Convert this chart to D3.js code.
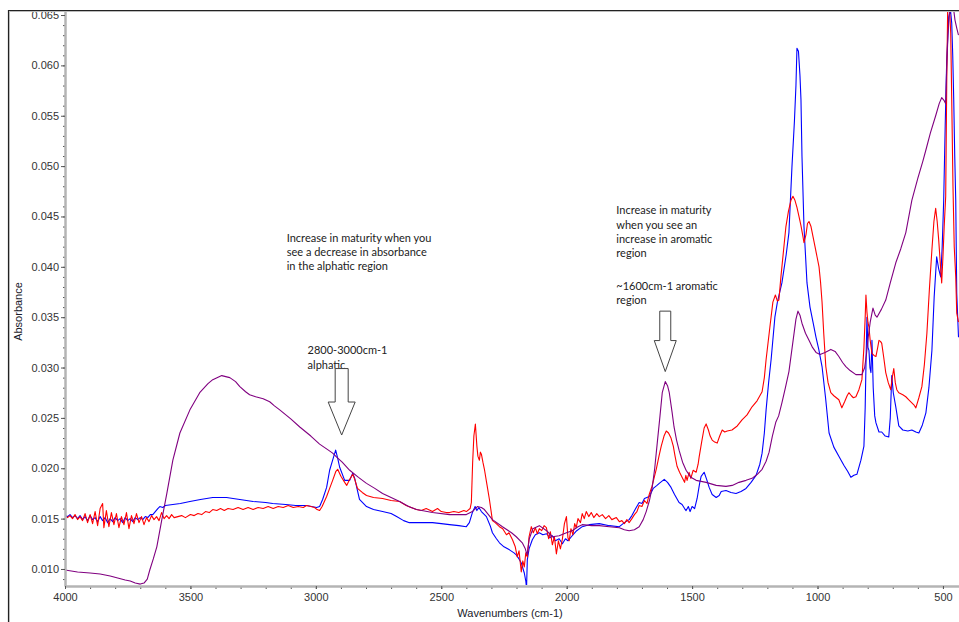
<!DOCTYPE html>
<html>
<head>
<meta charset="utf-8">
<script src="https://cdn.jsdelivr.net/npm/d3@7"></script>
<style>
  body { margin: 0; background: #fff; }
  svg { display: block; }
</style>
</head>
<body>
<div id="chart"></div>
<script>
"use strict";
// tick labels
var xTicks = [4000, 3500, 3000, 2500, 2000, 1500, 1000, 500];
var yTicks = [0.010, 0.015, 0.020, 0.025, 0.030, 0.035, 0.040, 0.045, 0.050, 0.055, 0.060, 0.065];

// spectra: [wavenumber, absorbance]
var purpleSeries = [
  [4000,0.0099],[3950,0.0097],[3900,0.0096],[3860,0.0095],[3820,0.0093],[3790,0.0091],[3760,0.0089],[3740,0.0088],
  [3720,0.0086],[3700,0.0085],[3685,0.0086],[3672,0.0090],[3662,0.0099],[3648,0.0110],[3634,0.0122],[3614,0.0149],
  [3594,0.0175],[3570,0.0208],[3542,0.0235],[3502,0.0258],[3463,0.0275],[3430,0.0284],[3411,0.0288],[3375,0.0292],
  [3343,0.0290],[3320,0.0286],[3303,0.0281],[3280,0.0276],[3264,0.0273],[3240,0.0271],[3210,0.0269],[3184,0.0266],
  [3165,0.0262],[3144,0.0258],[3100,0.0249],[3064,0.0241],[3020,0.0232],[2985,0.0224],[2950,0.0218],[2933,0.0215],
  [2917,0.0211],[2895,0.0206],[2865,0.0198],[2830,0.0191],[2798,0.0185],[2765,0.0180],[2734,0.0175],[2700,0.0171],
  [2666,0.0167],[2630,0.0162],[2599,0.0159],[2535,0.0156],[2467,0.0154],[2400,0.0154],[2376,0.0157],[2356,0.0162],
  [2340,0.0161],[2328,0.0159],[2296,0.0149],[2256,0.0142],[2220,0.0136],[2201,0.0132],[2177,0.0126],[2165,0.0120],
  [2158,0.0114],[2149,0.0130],[2135,0.0140],[2109,0.0143],[2080,0.0138],[2057,0.0132],[2030,0.0133],[2001,0.0136],
  [1978,0.0138],[1955,0.0142],[1938,0.0144],[1900,0.0143],[1870,0.0143],[1830,0.0142],[1790,0.0141],[1770,0.0139],
  [1751,0.0138],[1730,0.0139],[1711,0.0142],[1695,0.0149],[1683,0.0157],[1670,0.0168],[1659,0.0181],[1649,0.0200],
  [1639,0.0225],[1628,0.0252],[1619,0.0275],[1607,0.0286],[1598,0.0282],[1591,0.0275],[1580,0.0256],[1572,0.0241],
  [1562,0.0228],[1552,0.0218],[1538,0.0206],[1524,0.0198],[1505,0.0191],[1484,0.0188],[1444,0.0186],[1404,0.0183],
  [1365,0.0182],[1340,0.0183],[1313,0.0186],[1285,0.0188],[1261,0.0190],[1240,0.0194],[1221,0.0199],[1205,0.0207],
  [1193,0.0216],[1180,0.0232],[1166,0.0246],[1155,0.0252],[1142,0.0265],[1128,0.0280],[1114,0.0296],[1100,0.0322],
  [1086,0.0348],[1078,0.0356],[1070,0.0352],[1062,0.0344],[1048,0.0334],[1034,0.0327],[1020,0.0320],[1006,0.0315],
  [990,0.0313],[970,0.0315],[947,0.0318],[930,0.0316],[915,0.0311],[900,0.0305],[887,0.0301],[870,0.0297],
  [847,0.0293],[823,0.0293],[812,0.0300],[805,0.0313],[798,0.0330],[790,0.0345],[779,0.0359],[770,0.0352],
  [763,0.0350],[745,0.0358],[728,0.0367],[710,0.0384],[688,0.0404],[668,0.0418],[648,0.0434],[624,0.0466],
  [600,0.0488],[580,0.0505],[568,0.0516],[550,0.0533],[529,0.0550],[515,0.0562],[505,0.0568],[495,0.0565],
  [489,0.0562],[485,0.0598],[480,0.0630],[475,0.0650],[469,0.0668],[463,0.0660],[457,0.0655],[452,0.0645],
  [445,0.0637],[438,0.0630]
];

var blueSeries = [
  [4000,0.0153],[3990,0.0152],[3980,0.0154],[3970,0.0151],[3960,0.0153],[3950,0.0150],[3940,0.0153],[3930,0.0149],
  [3920,0.0152],[3910,0.0148],[3900,0.0153],[3890,0.0149],[3880,0.0151],[3870,0.0147],[3860,0.0152],[3850,0.0148],
  [3840,0.0151],[3830,0.0146],[3820,0.0150],[3810,0.0147],[3800,0.0151],[3790,0.0148],[3780,0.0150],[3770,0.0146],
  [3760,0.0151],[3750,0.0148],[3740,0.0150],[3730,0.0147],[3720,0.0151],[3710,0.0149],[3700,0.0151],[3690,0.0149],
  [3680,0.0152],[3670,0.0151],[3660,0.0154],[3650,0.0154],[3640,0.0157],[3630,0.0160],[3622,0.0162],[3610,0.0161],
  [3600,0.0163],[3570,0.0164],[3540,0.0165],[3502,0.0167],[3460,0.0169],[3411,0.0171],[3380,0.0171],[3356,0.0171],
  [3330,0.0170],[3303,0.0169],[3250,0.0167],[3200,0.0166],[3172,0.0165],[3120,0.0164],[3080,0.0163],[3037,0.0163],
  [2997,0.0161],[2985,0.0162],[2973,0.0169],[2957,0.0181],[2945,0.0198],[2933,0.0208],[2921,0.0218],[2913,0.0210],
  [2905,0.0201],[2885,0.0188],[2865,0.0188],[2853,0.0195],[2845,0.0190],[2837,0.0181],[2826,0.0169],[2798,0.0162],
  [2770,0.0159],[2734,0.0157],[2700,0.0155],[2678,0.0152],[2650,0.0148],[2627,0.0146],[2580,0.0146],[2535,0.0146],
  [2500,0.0145],[2467,0.0144],[2430,0.0143],[2400,0.0142],[2388,0.0146],[2376,0.0156],[2365,0.0162],[2358,0.0158],
  [2350,0.0161],[2340,0.0157],[2320,0.0152],[2305,0.0143],[2296,0.0136],[2280,0.0130],[2268,0.0126],[2250,0.0122],
  [2228,0.0119],[2210,0.0116],[2201,0.0114],[2190,0.0110],[2181,0.0106],[2169,0.0096],[2163,0.0088],[2160,0.0081],
  [2157,0.0109],[2150,0.0120],[2137,0.0129],[2125,0.0134],[2109,0.0136],[2095,0.0134],[2080,0.0135],[2067,0.0131],
  [2057,0.0133],[2045,0.0128],[2030,0.0130],[2017,0.0125],[2005,0.0130],[1995,0.0128],[1978,0.0133],[1960,0.0138],
  [1938,0.0142],[1910,0.0144],[1870,0.0145],[1830,0.0143],[1790,0.0142],[1770,0.0146],[1751,0.0149],[1740,0.0153],
  [1725,0.0160],[1711,0.0166],[1700,0.0165],[1690,0.0170],[1671,0.0172],[1655,0.0180],[1640,0.0183],[1631,0.0185],
  [1611,0.0189],[1598,0.0186],[1584,0.0181],[1570,0.0174],[1552,0.0166],[1540,0.0164],[1530,0.0160],[1524,0.0158],
  [1515,0.0162],[1508,0.0157],[1500,0.0162],[1490,0.0160],[1480,0.0170],[1470,0.0185],[1464,0.0192],[1452,0.0196],
  [1442,0.0189],[1432,0.0181],[1420,0.0174],[1404,0.0171],[1392,0.0173],[1384,0.0177],[1365,0.0178],[1345,0.0176],
  [1325,0.0175],[1305,0.0177],[1285,0.0180],[1265,0.0186],[1245,0.0193],[1230,0.0204],[1221,0.0215],[1212,0.0235],
  [1205,0.0258],[1195,0.0285],[1185,0.0308],[1170,0.0350],[1160,0.0365],[1142,0.0384],[1125,0.0412],[1114,0.0434],
  [1102,0.0499],[1092,0.0545],[1086,0.0580],[1082,0.0617],[1076,0.0614],[1070,0.0590],[1066,0.0566],[1062,0.0510],
  [1054,0.0440],[1042,0.0384],[1030,0.0360],[1018,0.0345],[1006,0.0330],[995,0.0318],[982,0.0301],[968,0.0270],
  [954,0.0235],[935,0.0221],[915,0.0212],[895,0.0203],[880,0.0197],[867,0.0191],[855,0.0193],[843,0.0194],
  [827,0.0208],[815,0.0222],[810,0.0260],[807,0.0301],[803,0.0350],[799,0.0320],[795,0.0317],[791,0.0300],
  [787,0.0295],[783,0.0327],[778,0.0280],[772,0.0252],[767,0.0245],[755,0.0236],[744,0.0236],[730,0.0232],
  [716,0.0231],[710,0.0250],[704,0.0292],[698,0.0275],[688,0.0261],[676,0.0242],[660,0.0238],[640,0.0237],
  [624,0.0238],[608,0.0236],[596,0.0235],[582,0.0243],[568,0.0255],[556,0.0280],[544,0.0317],[535,0.0370],
  [525,0.0410],[517,0.0398],[509,0.0390],[503,0.0420],[497,0.0466],[491,0.0540],[485,0.0605],[477,0.0648],
  [470,0.0655],[465,0.0642],[461,0.0610],[457,0.0566],[453,0.0510],[449,0.0466],[445,0.0374],[438,0.0330]
];

var redSeries = [
  [4000,0.0153],[3990,0.0151],[3980,0.0153],[3970,0.0150],[3960,0.0154],[3950,0.0149],[3940,0.0152],[3930,0.0148],
  [3920,0.0155],[3910,0.0146],[3900,0.0154],[3890,0.0145],[3880,0.0157],[3870,0.0143],[3860,0.0160],[3850,0.0165],
  [3845,0.0141],[3835,0.0158],[3825,0.0142],[3815,0.0156],[3805,0.0144],[3795,0.0155],[3785,0.0141],[3775,0.0152],
  [3765,0.0144],[3755,0.0156],[3745,0.0140],[3735,0.0153],[3725,0.0145],[3715,0.0155],[3705,0.0146],[3695,0.0152],
  [3685,0.0144],[3675,0.0151],[3665,0.0147],[3655,0.0153],[3645,0.0149],[3635,0.0152],[3625,0.0148],[3615,0.0156],
  [3605,0.0150],[3595,0.0153],[3585,0.0150],[3575,0.0154],[3565,0.0151],[3550,0.0152],[3535,0.0153],[3520,0.0151],
  [3500,0.0154],[3485,0.0153],[3470,0.0155],[3455,0.0154],[3440,0.0157],[3425,0.0156],[3411,0.0159],[3395,0.0158],
  [3380,0.0160],[3365,0.0158],[3350,0.0160],[3330,0.0159],[3310,0.0161],[3290,0.0159],[3270,0.0161],[3250,0.0159],
  [3230,0.0161],[3210,0.0160],[3190,0.0162],[3170,0.0160],[3150,0.0162],[3130,0.0161],[3110,0.0163],[3090,0.0161],
  [3070,0.0162],[3050,0.0161],[3037,0.0163],[3020,0.0162],[3005,0.0161],[2995,0.0159],[2985,0.0158],[2975,0.0162],
  [2957,0.0172],[2945,0.0180],[2933,0.0188],[2920,0.0197],[2913,0.0199],[2900,0.0192],[2885,0.0186],[2877,0.0183],
  [2865,0.0189],[2853,0.0194],[2845,0.0189],[2834,0.0180],[2815,0.0176],[2798,0.0173],[2770,0.0171],[2734,0.0170],
  [2700,0.0168],[2666,0.0167],[2640,0.0163],[2620,0.0161],[2599,0.0159],[2580,0.0158],[2560,0.0160],[2535,0.0157],
  [2515,0.0160],[2500,0.0157],[2480,0.0156],[2467,0.0156],[2450,0.0157],[2430,0.0156],[2410,0.0158],[2400,0.0157],
  [2385,0.0160],[2380,0.0166],[2375,0.0205],[2370,0.0232],[2364,0.0244],[2358,0.0222],[2354,0.0212],[2348,0.0208],
  [2344,0.0216],[2340,0.0214],[2334,0.0206],[2328,0.0199],[2318,0.0184],[2308,0.0169],[2296,0.0148],[2285,0.0146],
  [2268,0.0142],[2255,0.0140],[2240,0.0134],[2230,0.0136],[2216,0.0129],[2205,0.0122],[2197,0.0112],[2190,0.0118],
  [2181,0.0097],[2175,0.0108],[2169,0.0102],[2163,0.0116],[2157,0.0112],[2150,0.0132],[2141,0.0142],[2133,0.0136],
  [2125,0.0141],[2117,0.0135],[2109,0.0140],[2100,0.0138],[2090,0.0143],[2081,0.0141],[2072,0.0130],[2065,0.0137],
  [2057,0.0124],[2049,0.0132],[2041,0.0115],[2033,0.0128],[2025,0.0120],[2017,0.0130],[2009,0.0145],[2001,0.0152],
  [1995,0.0131],[1990,0.0128],[1983,0.0140],[1975,0.0134],[1968,0.0145],[1962,0.0141],[1955,0.0150],[1945,0.0146],
  [1938,0.0155],[1930,0.0150],[1922,0.0157],[1912,0.0152],[1902,0.0156],[1892,0.0151],[1880,0.0155],[1870,0.0152],
  [1858,0.0154],[1845,0.0150],[1832,0.0153],[1820,0.0149],[1802,0.0151],[1790,0.0147],[1780,0.0148],[1770,0.0145],
  [1760,0.0149],[1751,0.0146],[1740,0.0150],[1730,0.0154],[1720,0.0157],[1711,0.0163],[1700,0.0162],[1690,0.0168],
  [1680,0.0165],[1671,0.0174],[1660,0.0182],[1650,0.0192],[1643,0.0199],[1632,0.0212],[1623,0.0222],[1612,0.0232],
  [1603,0.0237],[1594,0.0235],[1584,0.0230],[1575,0.0222],[1568,0.0212],[1560,0.0202],[1550,0.0196],[1540,0.0191],
  [1530,0.0186],[1525,0.0193],[1520,0.0188],[1512,0.0196],[1505,0.0190],[1496,0.0198],[1484,0.0196],[1476,0.0204],
  [1472,0.0211],[1462,0.0226],[1452,0.0240],[1444,0.0244],[1435,0.0238],[1428,0.0232],[1420,0.0228],[1410,0.0226],
  [1400,0.0225],[1390,0.0232],[1380,0.0238],[1370,0.0236],[1360,0.0237],[1341,0.0238],[1320,0.0242],[1301,0.0248],
  [1281,0.0253],[1261,0.0261],[1241,0.0267],[1221,0.0276],[1212,0.0290],[1205,0.0308],[1190,0.0340],[1178,0.0365],
  [1168,0.0372],[1160,0.0366],[1154,0.0367],[1146,0.0390],[1136,0.0415],[1126,0.0440],[1116,0.0455],[1106,0.0466],
  [1098,0.0470],[1090,0.0466],[1082,0.0459],[1074,0.0450],[1066,0.0441],[1058,0.0430],[1054,0.0424],[1046,0.0432],
  [1040,0.0443],[1034,0.0445],[1026,0.0440],[1018,0.0430],[1010,0.0420],[1002,0.0410],[994,0.0400],[988,0.0385],
  [982,0.0365],[975,0.0333],[967,0.0301],[958,0.0285],[947,0.0275],[935,0.0272],[925,0.0270],[915,0.0268],
  [903,0.0260],[892,0.0266],[882,0.0272],[875,0.0275],[865,0.0272],[857,0.0270],[847,0.0271],[835,0.0278],
  [823,0.0288],[815,0.0320],[810,0.0350],[807,0.0372],[803,0.0355],[799,0.0345],[795,0.0340],[790,0.0327],
  [783,0.0314],[775,0.0312],[767,0.0311],[760,0.0320],[755,0.0327],[749,0.0326],[744,0.0324],[736,0.0310],
  [728,0.0295],[718,0.0285],[708,0.0278],[702,0.0290],[696,0.0299],[690,0.0285],[684,0.0278],[676,0.0275],
  [660,0.0273],[648,0.0271],[636,0.0268],[624,0.0265],[616,0.0263],[608,0.0260],[596,0.0270],[584,0.0281],
  [574,0.0303],[564,0.0334],[554,0.0378],[544,0.0417],[536,0.0445],[529,0.0458],[523,0.0445],[517,0.0427],
  [511,0.0405],[505,0.0384],[500,0.0410],[495,0.0440],[489,0.0470],[485,0.0580],[481,0.0660],[477,0.0665],
  [472,0.0648],[469,0.0632],[465,0.0566],[460,0.0480],[455,0.0420],[449,0.0390],[445,0.0354],[438,0.0345]
];

// annotations, anchored in data coordinates
var noteTexts = [
  ['Increase in maturity when you', 'see a decrease in absorbance', 'in the alphatic region'],
  ['2800-3000cm-1', 'alphatic'],
  ['Increase in maturity', 'when you see an', 'increase in aromatic', 'region'],
  ['~1600cm-1 aromatic', 'region']
];
var noteAnchors = [[3116, 0.0425], [3033, 0.0313], [1802, 0.0452], [1802, 0.0377]];
var arrowMarks = [[2897, 0.0299, 0.0233], [1607, 0.0356, 0.0296]];

var SpectrumGraph = (function () {
    function SpectrumGraph() {
        this.width = 959;
        this.height = 622;
        this.margin = { top: 11, right: 0, bottom: 36, left: 65 };
        this.wnDomain = [4000, 436];
        this.absDomain = [0.00831, 0.0654];
        this.font = '"Liberation Sans", Arial, sans-serif';
        this.noteFont = 'Lato, "Open Sans", sans-serif';
    }
    SpectrumGraph.prototype.precalc = function () {
        this.plotW = this.width - this.margin.left - this.margin.right;
        this.plotH = this.height - this.margin.top - this.margin.bottom;
        this.x = d3.scaleLinear().domain(this.wnDomain).range([0, this.plotW]);
        this.y = d3.scaleLinear().domain(this.absDomain).range([this.plotH, 0]);
    };
    SpectrumGraph.prototype.draw_frame = function () {
        var root = this.root;
        root.append('line').attr('x1', 8.5).attr('x2', 8.5).attr('y1', 10).attr('y2', this.height)
            .attr('stroke', '#222').attr('stroke-width', 1.2);
        root.append('line').attr('x1', 9.5).attr('x2', 9.5).attr('y1', 11).attr('y2', this.height)
            .attr('stroke', '#bbb').attr('stroke-width', 1);
        root.append('line').attr('x1', 8).attr('x2', this.width).attr('y1', 10.5).attr('y2', 10.5)
            .attr('stroke', '#222').attr('stroke-width', 1.2);
        root.append('line').attr('x1', 9).attr('x2', this.width).attr('y1', 11.5).attr('y2', 11.5)
            .attr('stroke', '#bbb').attr('stroke-width', 1);
    };
    SpectrumGraph.prototype.draw_axes = function () {
        var _this = this;
        var g = this.svg;
        var minorY = d3.range(9, 66).map(function (v) { return v / 1000; });
        var minorX = d3.range(500, 4001, 100);

        var yMinor = g.append('g').call(d3.axisLeft(this.y).tickValues(minorY).tickSize(2).tickSizeOuter(0).tickFormat(''));
        var xMinor = g.append('g').attr('transform', 'translate(0,' + this.plotH + ')')
            .call(d3.axisBottom(this.x).tickValues(minorX).tickSize(3).tickSizeOuter(0).tickFormat(''));

        var yAxis = g.append('g')
            .call(d3.axisLeft(this.y).tickValues(yTicks).tickSize(4).tickPadding(2).tickSizeOuter(0)
                .tickFormat(d3.format('.3f')));
        var xAxis = g.append('g').attr('transform', 'translate(0,' + this.plotH + ')')
            .call(d3.axisBottom(this.x).tickValues(xTicks).tickSize(3).tickPadding(4).tickSizeOuter(0)
                .tickFormat(d3.format('d')));

        [yMinor, xMinor, yAxis, xAxis].forEach(function (a) {
            a.select('.domain').attr('stroke', '#b4b4b4').attr('stroke-width', 2.5);
            a.selectAll('.tick line').attr('stroke', '#555');
            a.selectAll('text').attr('font-family', _this.font).attr('font-size', 11).attr('fill', '#333');
        });
        yMinor.select('.domain').attr('stroke', 'none');
        xMinor.select('.domain').attr('stroke', 'none');

        g.append('text')
            .attr('transform', 'translate(' + (-43) + ',' + (this.plotH / 2 + 13) + ') rotate(-90)')
            .attr('text-anchor', 'middle')
            .attr('font-family', this.font).attr('font-size', 11).attr('fill', '#1a1a2a')
            .text('Absorbance');
        g.append('text')
            .attr('x', this.plotW / 2 - 2)
            .attr('y', this.plotH + 31)
            .attr('text-anchor', 'middle')
            .attr('font-family', this.font).attr('font-size', 11).attr('fill', '#1a1a2a')
            .text('Wavenumbers (cm-1)');
    };
    SpectrumGraph.prototype.draw_lines = function () {
        var _this = this;
        this.svg.append('clipPath').attr('id', 'plot-clip')
            .append('rect').attr('x', 0).attr('y', 0).attr('width', this.plotW).attr('height', this.plotH - 1);
        var line = d3.line()
            .x(function (d) { return _this.x(d[0]); })
            .y(function (d) { return _this.y(d[1]); });
        var series = [
            { data: blueSeries, color: '#0000ff' },
            { data: redSeries, color: '#ff0000' },
            { data: purpleSeries, color: '#800080' }
        ];
        this.svg.append('g').attr('clip-path', 'url(#plot-clip)')
            .selectAll('path')
            .data(series)
            .enter().append('path')
            .attr('fill', 'none')
            .attr('stroke', function (s) { return s.color; })
            .attr('stroke-width', 1.1)
            .attr('stroke-linejoin', 'round')
            .attr('d', function (s) { return line(s.data); });
    };
    SpectrumGraph.prototype.draw_notes = function () {
        var _this = this;
        var notes = this.svg.append('g');
        noteTexts.forEach(function (lines, i) {
            var t = notes.append('text')
                .attr('x', _this.x(noteAnchors[i][0]))
                .attr('y', _this.y(noteAnchors[i][1]))
                .attr('font-family', _this.noteFont)
                .attr('font-size', 11)
                .attr('fill', '#222');
            lines.forEach(function (s, k) {
                t.append('tspan')
                    .attr('x', _this.x(noteAnchors[i][0]))
                    .attr('dy', k === 0 ? 0 : 14.3)
                    .text(s);
            });
        });
        var sizes = [{ shaft: 13, head: 27, len: 33 }, { shaft: 11, head: 22, len: 31 }];
        notes.selectAll('.arrow')
            .data(arrowMarks)
            .enter().append('path')
            .attr('fill', '#fff')
            .attr('stroke', '#444')
            .attr('stroke-width', 1)
            .attr('d', function (a, i) {
                var sz = sizes[i];
                var cx = _this.x(a[0]), top = _this.y(a[1]), tip = _this.y(a[2]);
                var neck = tip - sz.len;
                return 'M' + (cx - sz.shaft / 2) + ',' + top +
                    'L' + (cx + sz.shaft / 2) + ',' + top +
                    'L' + (cx + sz.shaft / 2) + ',' + neck +
                    'L' + (cx + sz.head / 2) + ',' + neck +
                    'L' + cx + ',' + tip +
                    'L' + (cx - sz.head / 2) + ',' + neck +
                    'L' + (cx - sz.shaft / 2) + ',' + neck + 'Z';
            });
    };
    SpectrumGraph.prototype.launch = function () {
        this.precalc();
        this.root = d3.select('#chart').append('svg')
            .attr('width', this.width)
            .attr('height', this.height);
        this.root.append('rect').attr('width', this.width).attr('height', this.height).attr('fill', '#fff');
        this.svg = this.root.append('g')
            .attr('transform', 'translate(' + this.margin.left + ',' + this.margin.top + ')');
        this.draw_lines();
        this.draw_axes();
        this.draw_notes();
        this.draw_frame();
    };
    return SpectrumGraph;
}());

new SpectrumGraph().launch();
</script>
</body>
</html>
